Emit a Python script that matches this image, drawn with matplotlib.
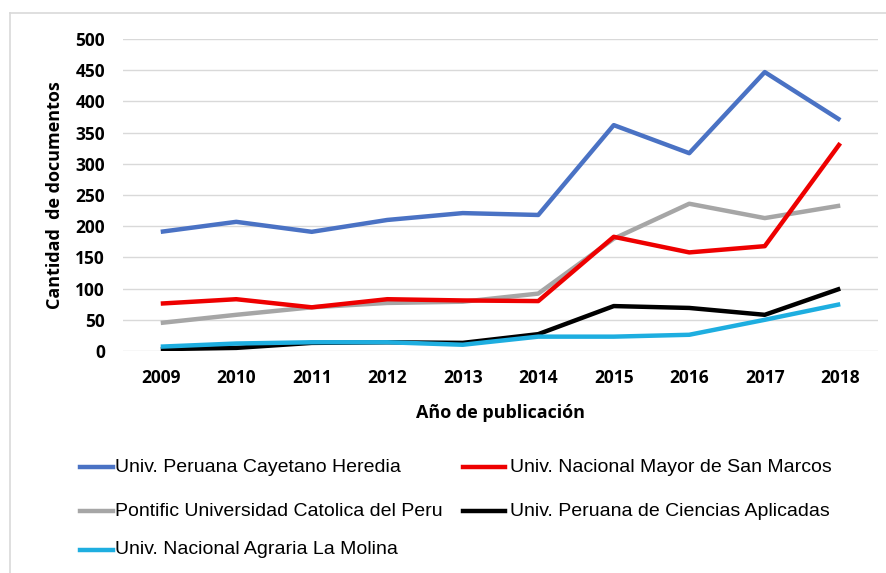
import matplotlib
matplotlib.use("Agg")
import matplotlib.pyplot as plt
from matplotlib.lines import Line2D

# ========================
# データ
# ========================
years = [2009, 2010, 2011, 2012, 2013, 2014, 2015, 2016, 2017, 2018]

cayetano = [191, 207, 191, 210, 221, 218, 362, 317, 447, 370]
san_marcos = [76, 83, 70, 83, 81, 80, 183, 158, 168, 333]
catolica = [45, 58, 70, 77, 79, 92, 180, 236, 213, 233]
upc = [3, 5, 13, 14, 13, 27, 72, 69, 58, 100]
la_molina = [7, 12, 14, 14, 10, 23, 23, 26, 50, 75]

names = [
    "Univ. Peruana Cayetano Heredia",
    "Univ. Nacional Mayor de San Marcos",
    "Pontific Universidad Catolica del Peru",
    "Univ. Peruana de Ciencias Aplicadas",
    "Univ. Nacional Agraria La Molina",
]
series = [cayetano, san_marcos, catolica, upc, la_molina]
colors = ["#4a72c4", "#ee0000", "#a6a6a6", "#000000", "#1eaee0"]

plt.rcParams["font.family"] = ["Open Sans", "DejaVu Sans"]

W, H = 886, 573
fig = plt.figure(figsize=(W / 100, H / 100), dpi=100)

# 枠線（上・左のみ見える）
fig.add_artist(Line2D([10 / W, 1], [1 - 13 / H, 1 - 13 / H], color="#d9d9d9", lw=1.2))
fig.add_artist(Line2D([10 / W, 10 / W], [0, 1 - 13 / H], color="#d9d9d9", lw=1.2))

ax = fig.add_axes([123 / W, 1 - 351 / H, (878 - 123) / W, (351 - 39) / H])

order = [2, 0, 1, 3, 4]
for i in order:
    ax.plot(years, series[i], color=colors[i], lw=3.2, solid_capstyle="butt",
            zorder=3 + (1 if i == 1 else 0))

ax.set_xlim(2008.5, 2018.5)
ax.set_ylim(0, 500)
ax.set_yticks(range(0, 501, 50))
ax.set_xticks(years)
ax.grid(axis="y", color="#d9d9d9", lw=1)
ax.set_axisbelow(True)
for s in ax.spines.values():
    s.set_visible(False)
ax.tick_params(length=0, labelsize=12.5)
for lab in ax.get_xticklabels() + ax.get_yticklabels():
    lab.set_fontweight("bold")
ax.tick_params(axis="x", pad=13)
ax.tick_params(axis="y", pad=13)

ax.set_xlabel("Año de publicación", fontsize=13, fontweight="bold", labelpad=12)
ax.set_ylabel("Cantidad  de documentos", fontsize=13, fontweight="bold")
ax.yaxis.set_label_coords(-0.078, 0.5)

# 凡例（手動配置、行ごと）
leg_x = [(80, 113, 115), (463, 505, 510)]
leg_y = [467, 511, 550]
for k, (nm, c) in enumerate(zip(names, colors)):
    col, row = k % 2, k // 2
    x0, x1, xt = leg_x[col]
    y = 1 - leg_y[row] / H
    fig.add_artist(Line2D([x0 / W, x1 / W], [y, y], color=c, lw=3.2))
    fig.text(xt / W, y, nm, fontsize=14, va="center", ha="left",
             family=["Liberation Sans", "DejaVu Sans"])

plt.savefig("out.png", dpi=100)
